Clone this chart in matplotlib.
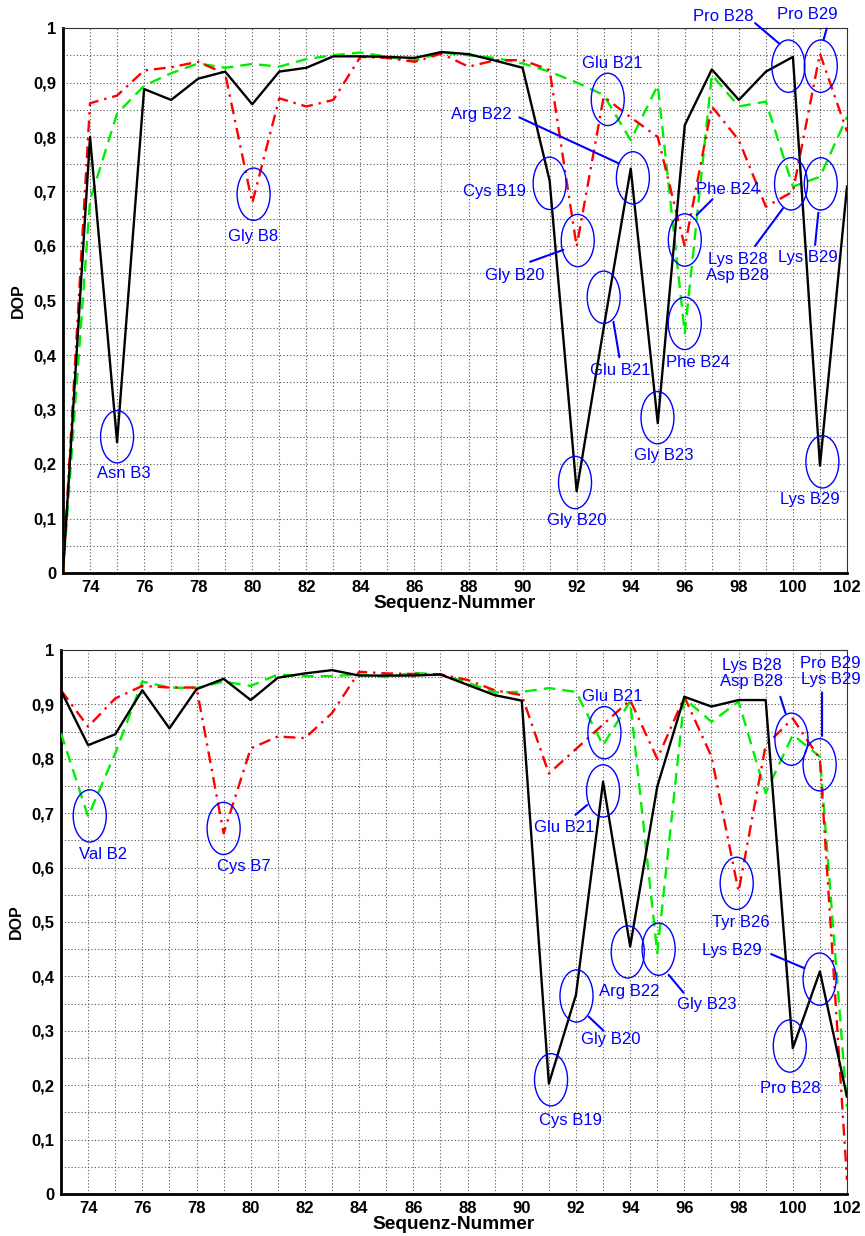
import matplotlib
matplotlib.use("Agg")
import matplotlib.pyplot as plt
from matplotlib.patches import Ellipse
from matplotlib.ticker import FuncFormatter, MultipleLocator

plt.rcParams["font.family"] = ["Liberation Sans", "DejaVu Sans"]

# sequence numbers on the x axis
seq = list(range(73, 103))

# upper panel
top_black = [0.0, 0.80, 0.24, 0.888, 0.868, 0.907, 0.92, 0.86, 0.92, 0.927,
             0.948, 0.948, 0.947, 0.945, 0.956, 0.952, 0.94, 0.927, 0.72, 0.15,
             0.45, 0.742, 0.275, 0.822, 0.924, 0.868, 0.92, 0.947, 0.197, 0.709]
top_red = [0.0, 0.862, 0.876, 0.922, 0.928, 0.938, 0.916, 0.679, 0.871, 0.856,
           0.868, 0.947, 0.945, 0.938, 0.953, 0.929, 0.941, 0.941, 0.923, 0.599,
           0.874, 0.836, 0.80, 0.599, 0.856, 0.794, 0.672, 0.70, 0.953, 0.81]
top_green = [0.0, 0.684, 0.843, 0.894, 0.917, 0.935, 0.927, 0.934, 0.929, 0.943,
             0.95, 0.955, 0.947, 0.94, 0.955, 0.95, 0.945, 0.935, 0.92, 0.90,
             0.877, 0.794, 0.895, 0.44, 0.914, 0.856, 0.865, 0.709, 0.727, 0.837]

# lower panel
bot_black = [0.925, 0.825, 0.845, 0.926, 0.856, 0.928, 0.947, 0.908, 0.949, 0.957,
             0.963, 0.953, 0.953, 0.953, 0.955, 0.936, 0.917, 0.907, 0.203, 0.366,
             0.758, 0.455, 0.749, 0.914, 0.896, 0.908, 0.908, 0.268, 0.409, 0.179]
bot_red = [0.926, 0.859, 0.911, 0.934, 0.931, 0.931, 0.663, 0.819, 0.841, 0.838,
           0.884, 0.96, 0.957, 0.956, 0.955, 0.945, 0.926, 0.917, 0.773, 0.818,
           0.863, 0.908, 0.80, 0.914, 0.804, 0.556, 0.825, 0.874, 0.80, 0.026]
bot_green = [0.847, 0.694, 0.81, 0.942, 0.931, 0.93, 0.942, 0.934, 0.955, 0.952,
             0.952, 0.955, 0.95, 0.958, 0.955, 0.94, 0.922, 0.923, 0.93, 0.923,
             0.825, 0.906, 0.443, 0.911, 0.868, 0.905, 0.737, 0.844, 0.804, 0.16]

# annotations: label, circled point, label position, optional leader line
top_notes = [
    ("Asn B3", (75.0, 0.25), (75.26, 0.183), None),
    ("Gly B8", (80.05, 0.695), (80.04, 0.618), None),
    ("Cys B19", (91.0, 0.715), (88.96, 0.70), None),
    ("Gly B20", (92.04, 0.61), (89.7, 0.545), ((90.28, 0.571), (91.51, 0.593))),
    ("Glu B21", (93.15, 0.869), (93.33, 0.935), None),
    ("Arg B22", (94.08, 0.725), (88.49, 0.842), ((89.88, 0.836), (93.54, 0.752))),
    ("Glu B21", (93.0, 0.506), (93.63, 0.371), ((93.36, 0.461), (93.58, 0.396))),
    ("Gly B23", (94.99, 0.285), (95.21, 0.215), None),
    ("Gly B20", (91.94, 0.166), (92.0, 0.097), None),
    ("Phe B24", (96.0, 0.611), (97.58, 0.703), ((97.03, 0.686), (96.44, 0.657))),
    ("Phe B24", (96.0, 0.458), (96.48, 0.386), None),
    ("Pro B28", (99.83, 0.93), (97.41, 1.021), ((98.6, 1.009), (99.5, 0.971))),
    ("Pro B29", (101.03, 0.93), (100.55, 1.024), ((101.25, 0.999), (101.13, 0.978))),
    ("Lys B28\nAsp B28", (99.93, 0.714), (97.95, 0.561), ((98.6, 0.60), (99.63, 0.669))),
    ("Lys B29", (101.03, 0.714), (100.55, 0.579), ((100.82, 0.602), (100.94, 0.661))),
    ("Lys B29", (101.09, 0.204), (100.64, 0.134), None),
]
bot_notes = [
    ("Val B2", (74.06, 0.695), (74.57, 0.624), None),
    ("Cys B7", (79.0, 0.672), (79.74, 0.602), None),
    ("Glu B21", (93.05, 0.848), (93.33, 0.914), None),
    ("Glu B21", (93.0, 0.741), (91.55, 0.674), ((91.98, 0.697), (92.41, 0.715))),
    ("Tyr B26", (97.93, 0.571), (98.07, 0.50), None),
    ("Lys B28\nAsp B28", (99.95, 0.836), (98.47, 0.957), ((99.54, 0.914), (99.73, 0.884))),
    ("Pro B29\nLys B29", (100.99, 0.789), (101.39, 0.96), ((101.08, 0.922), (101.08, 0.842))),
    ("Cys B19", (91.08, 0.21), (91.79, 0.136), None),
    ("Gly B20", (92.02, 0.364), (93.3, 0.284), ((92.47, 0.326), (93.02, 0.30))),
    ("Arg B22", (93.91, 0.445), (93.98, 0.372), None),
    ("Gly B23", (95.05, 0.45), (96.84, 0.349), ((95.42, 0.403), (95.97, 0.37))),
    ("Pro B28", (99.89, 0.272), (99.89, 0.194), None),
    ("Lys B29", (100.99, 0.395), (97.76, 0.447), ((99.2, 0.441), (100.43, 0.415))),
]


def dop_fmt(v, pos):
    if abs(v) < 1e-9:
        return "0"
    if abs(v - 1) < 1e-9:
        return "1"
    return f"{v:.1f}".replace(".", ",")


def draw_panel(ax, black, red, green, notes):
    ax.plot(seq, green, color="#00ee00", lw=1.7, ls=(0, (5, 3)), zorder=3)
    ax.plot(seq, red, color="#ff0000", lw=1.7, ls=(0, (5, 2.5, 1, 2.5)), zorder=4)
    ax.plot(seq, black, color="black", lw=1.7, zorder=5)

    ax.set_xlim(73, 102)
    ax.set_ylim(0, 1)
    ax.set_xticks(range(74, 103, 2))
    ax.set_xticks(range(73, 103), minor=True)
    ax.yaxis.set_major_locator(MultipleLocator(0.1))
    ax.yaxis.set_minor_locator(MultipleLocator(0.05))
    ax.yaxis.set_major_formatter(FuncFormatter(dop_fmt))
    ax.grid(which="both", color="#555555", ls=(0, (1, 2)), lw=0.8)
    ax.tick_params(which="both", length=0)
    ax.tick_params(axis="x", pad=5, labelsize=12)
    ax.tick_params(axis="y", pad=5, labelsize=12)
    for lab in ax.get_xticklabels() + ax.get_yticklabels():
        lab.set_fontweight("bold")

    ax.spines["left"].set_linewidth(2.0)
    ax.spines["bottom"].set_linewidth(2.0)
    ax.spines["top"].set_linewidth(0.8)
    ax.spines["right"].set_linewidth(0.8)
    ax.spines["top"].set_color("#333333")
    ax.spines["right"].set_color("#333333")

    ax.set_xlabel("Sequenz-Nummer", fontsize=13.8, fontweight="bold", labelpad=0)
    ax.set_ylabel("DOP", fontsize=11.5, fontweight="bold", labelpad=5)

    for text, (ex, ey), (tx, ty), leader in notes:
        ax.add_patch(Ellipse((ex, ey), 1.22, 0.096, fill=False,
                             edgecolor="blue", lw=1.0, zorder=6, clip_on=False))
        ax.text(tx, ty, text, color="blue", fontsize=12, ha="center",
                va="center", linespacing=1.05, zorder=7, clip_on=False)
        if leader is not None:
            ax.annotate("", xy=leader[1], xytext=leader[0],
                        arrowprops=dict(arrowstyle="-", color="blue", lw=1.5,
                                        shrinkA=0, shrinkB=0),
                        annotation_clip=False, zorder=7)


fig = plt.figure(figsize=(8.65, 12.36), dpi=100)
ax_top = fig.add_axes([63 / 865, 1 - 573 / 1236, 784 / 865, 545 / 1236])
ax_bot = fig.add_axes([61 / 865, 1 - 1194 / 1236, 786 / 865, 544 / 1236])

draw_panel(ax_top, top_black, top_red, top_green, top_notes)
draw_panel(ax_bot, bot_black, bot_red, bot_green, bot_notes)

fig.savefig("out.png", dpi=100)
